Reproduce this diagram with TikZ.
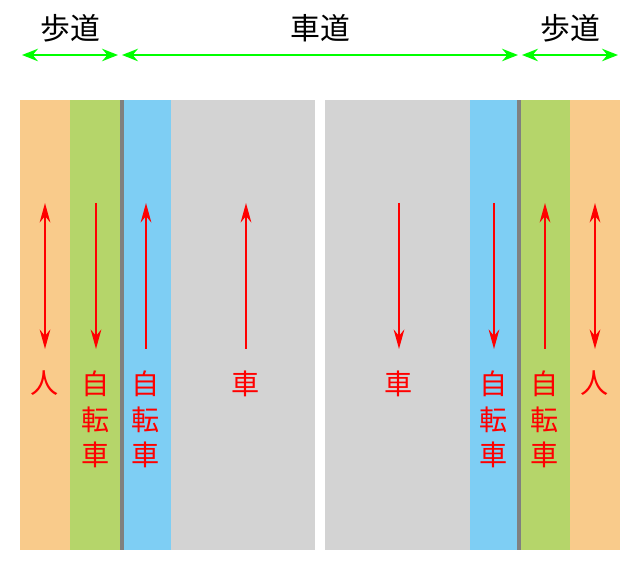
\documentclass[tikz,border=0pt]{standalone}
\usepackage{fontspec}
\newfontfamily\jpfont{Noto Sans CJK JP}
\usetikzlibrary{arrows.meta}
\definecolor{walk}{RGB}{249,203,139}
\definecolor{bike}{RGB}{181,213,106}
\definecolor{lane}{RGB}{126,206,244}
\definecolor{road}{RGB}{211,211,211}
\definecolor{curb}{RGB}{128,128,128}
\definecolor{zone}{RGB}{0,255,0}
\tikzset{
  Zone/.style={zone, line width=1.7pt, {Stealth[length=9pt,width=7pt]}-{Stealth[length=9pt,width=7pt]}},
  Flow/.style={red, line width=1.7pt, -{Stealth[length=11pt,width=6pt]}},
  Flow2/.style={red, line width=1.7pt, {Stealth[length=11pt,width=6pt]}-{Stealth[length=11pt,width=6pt]}},
  Head/.style={font=\jpfont\fontsize{17}{20}\selectfont},
  Tag/.style={font=\jpfont\fontsize{16}{20}\selectfont, text=red, align=center, anchor=north}
}
\begin{document}
\begin{tikzpicture}[x=0.02cm, y=-0.02cm]
    \useasboundingbox (0,0) rectangle (640,571);
    % strips
    \fill[walk] (20,100) rectangle (70,550);
    \fill[bike] (70,100) rectangle (120,550);
    \fill[curb] (120,100) rectangle (124,550);
    \fill[lane] (124,100) rectangle (171,550);
    \fill[road] (171,100) rectangle (315,550);
    \fill[road] (325,100) rectangle (470,550);
    \fill[lane] (470,100) rectangle (517,550);
    \fill[curb] (517,100) rectangle (521,550);
    \fill[bike] (521,100) rectangle (570,550);
    \fill[walk] (570,100) rectangle (620,550);

    % zones
    \node[Head] (hodoL) at (70,28) {歩道};
    \node[Head] (shado) at (320,28) {車道};
    \node[Head] (hodoR) at (570,28) {歩道};
    \coordinate (z1) at (22,55);  \coordinate (z2) at (118,55);
    \coordinate (z3) at (122,55); \coordinate (z4) at (518,55);
    \coordinate (z5) at (522,55); \coordinate (z6) at (618,55);
    \draw[Zone] (z1) -- (z2);
    \draw[Zone] (z3) -- (z4);
    \draw[Zone] (z5) -- (z6);

    % flows
    \foreach \x/\n in {45/a,96/b,146/c,246/d,399/e,494/f,545/g,595/h} {
        \coordinate (\n top) at (\x,203);
        \coordinate (\n bot) at (\x,349);
    }
    \draw[Flow2] (atop) -- (abot);
    \draw[Flow] (btop) -- (bbot);
    \draw[Flow] (cbot) -- (ctop);
    \draw[Flow] (dbot) -- (dtop);
    \draw[Flow] (etop) -- (ebot);
    \draw[Flow] (ftop) -- (fbot);
    \draw[Flow] (gbot) -- (gtop);
    \draw[Flow2] (htop) -- (hbot);

    % labels
    \node[Tag] (hitoL) at (45,365) {人};
    \node[Tag] (bikeL) at (96,365) {自\\転\\車};
    \node[Tag] (laneL) at (146,365) {自\\転\\車};
    \node[Tag] (carL) at (246,365) {車};
    \node[Tag] (carR) at (399,365) {車};
    \node[Tag] (laneR) at (494,365) {自\\転\\車};
    \node[Tag] (bikeR) at (545,365) {自\\転\\車};
    \node[Tag] (hitoR) at (595,365) {人};
\end{tikzpicture}
\end{document}
